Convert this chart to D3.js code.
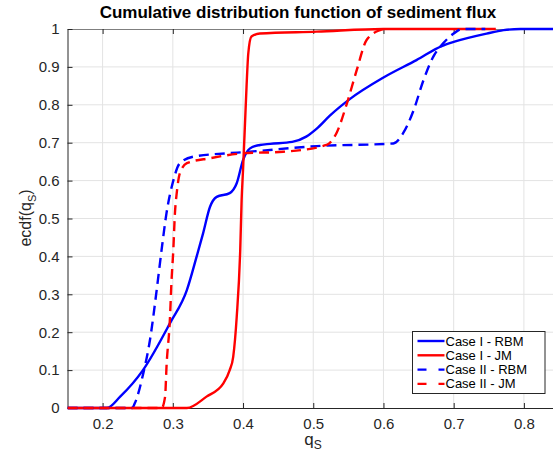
<!DOCTYPE html>
<html>
<head>
<meta charset="utf-8">
<script src="https://cdn.jsdelivr.net/npm/d3@7/dist/d3.min.js"></script>
<style>
  body { margin: 0; background: #fff; }
  text { font-family: "Liberation Sans", Arial, sans-serif; }
</style>
</head>
<body>
<script>
// sediment flux samples (q_S) and their ecdf values, one pair of arrays per case
var rbm1Q = [0.15, 0.206, 0.225, 0.2575, 0.296, 0.32, 0.334, 0.343, 0.353, 0.3625, 0.381, 0.391, 0.400, 0.41, 0.424, 0.4385, 0.47, 0.49, 0.505, 0.524, 0.552, 0.600, 0.647, 0.683, 0.70, 0.747, 0.771, 0.795, 0.85]
var rbm1V = [0, 0, 0.03, 0.10, 0.224, 0.311, 0.40, 0.46, 0.531, 0.557, 0.567, 0.593, 0.654, 0.685, 0.694, 0.697, 0.702, 0.716, 0.737, 0.772, 0.815, 0.872, 0.918, 0.955, 0.966, 0.988, 0.997, 1, 1]

var jm1Q = [0.15, 0.32, 0.348, 0.372, 0.381, 0.386, 0.391, 0.396, 0.398, 0.400, 0.403, 0.405, 0.4075, 0.412, 0.424, 0.505, 0.60, 0.76]
var jm1V = [0, 0, 0.03, 0.065, 0.10, 0.135, 0.24, 0.417, 0.549, 0.628, 0.76, 0.848, 0.936, 0.98, 0.988, 0.993, 1, 1]

var rbm2Q = [0.15, 0.242, 0.246, 0.258, 0.2675, 0.277, 0.284, 0.291, 0.3007, 0.310, 0.329, 0.377, 0.40, 0.505, 0.614, 0.628, 0.643, 0.657, 0.671, 0.685, 0.70, 0.712, 0.745]
var rbm2V = [0, 0, 0.013, 0.092, 0.18, 0.311, 0.417, 0.514, 0.60, 0.646, 0.663, 0.672, 0.675, 0.691, 0.698, 0.725, 0.786, 0.865, 0.927, 0.962, 0.988, 1, 1]

var jm2Q = [0.15, 0.284, 0.289, 0.291, 0.296, 0.298, 0.3007, 0.303, 0.3055, 0.31, 0.32, 0.353, 0.40, 0.457, 0.519, 0.533, 0.548, 0.562, 0.576, 0.595, 0.60]
var jm2V = [0, 0, 0.03, 0.109, 0.24, 0.33, 0.417, 0.514, 0.566, 0.619, 0.646, 0.659, 0.672, 0.676, 0.694, 0.725, 0.804, 0.892, 0.971, 0.997, 1]

var xTicks = [0.2, 0.3, 0.4, 0.5, 0.6, 0.7, 0.8]
var yTicks = [0, 0.1, 0.2, 0.3, 0.4, 0.5, 0.6, 0.7, 0.8, 0.9, 1]

var series = [
	{name: 'Case I - RBM', q: rbm1Q, v: rbm1V, color: '#0000ff', dash: null},
	{name: 'Case I - JM', q: jm1Q, v: jm1V, color: '#ff0000', dash: null},
	{name: 'Case II - RBM', q: rbm2Q, v: rbm2V, color: '#0000ff', dash: '10,6'},
	{name: 'Case II - JM', q: jm2Q, v: jm2V, color: '#ff0000', dash: '10,6'}
]

var width = 553,
	height = 454,
	margin = {top: 29, left: 67.5, bottom: 408}

var svg = d3.select('body')
	.append('svg')
	.attr('width', width)
	.attr('height', height)

svg.append('rect').attr('width', width).attr('height', height).attr('fill', '#fff')

var x = d3.scaleLinear()
	.domain([0.15, 0.85])
	.range([margin.left, 559])

var y = d3.scaleLinear()
	.domain([0, 1])
	.range([margin.bottom, margin.top])

// grid
svg.append('g')
	.selectAll('line')
	.data(xTicks).enter()
	.append('line')
	.attr('x1', d => x(d)).attr('x2', d => x(d))
	.attr('y1', y(0)).attr('y2', y(1))
	.attr('stroke', '#e3e3e3')

svg.append('g')
	.selectAll('line')
	.data(yTicks.slice(1, -1)).enter()
	.append('line')
	.attr('x1', x.range()[0]).attr('x2', width)
	.attr('y1', d => y(d)).attr('y2', d => y(d))
	.attr('stroke', '#e3e3e3')

var fontFam = '"Liberation Sans", Arial, sans-serif'

// top border with inward ticks
var axTop = svg.append('g').attr('transform', 'translate(0,' + y(1) + ')')
	.call(d3.axisTop(x).tickValues(xTicks).tickSizeInner(-5).tickSizeOuter(0).tickFormat(''))
axTop.select('.domain').attr('stroke', '#7f7f7f')
axTop.selectAll('.tick line').attr('stroke', '#262626')

// bottom axis
var axBottom = svg.append('g').attr('transform', 'translate(0,' + y(0) + ')')
	.call(d3.axisBottom(x).tickValues(xTicks).tickSizeInner(-5).tickSizeOuter(0).tickPadding(10).tickFormat(d3.format('.1f')))
axBottom.select('.domain').attr('stroke', '#262626')
axBottom.selectAll('.tick line').attr('stroke', '#262626')
axBottom.selectAll('text').attr('fill', '#262626').style('font-size', '15px').style('font-family', fontFam)

// left axis
var axLeft = svg.append('g').attr('transform', 'translate(' + x.range()[0] + ',0)')
	.call(d3.axisLeft(y).tickValues(yTicks).tickSizeInner(-5).tickSizeOuter(0).tickPadding(8).tickFormat(d => d == 0 || d == 1 ? d3.format('d')(d) : d3.format('.1f')(d)))
axLeft.select('.domain').attr('stroke', '#262626')
axLeft.selectAll('.tick line').attr('stroke', '#262626')
axLeft.selectAll('text').attr('fill', '#262626').style('font-size', '15px').style('font-family', fontFam)

// curves
svg.append('clipPath').attr('id', 'plotclip')
	.append('rect')
	.attr('x', x.range()[0]).attr('y', y(1) - 3)
	.attr('width', width - x.range()[0]).attr('height', y(0) - y(1) + 6)

var line = d3.line()
	.x(d => x(d[0]))
	.y(d => y(d[1]))
	.curve(d3.curveMonotoneX)

svg.append('g')
	.attr('clip-path', 'url(#plotclip)')
	.selectAll('path')
	.data(series).enter()
	.append('path')
	.attr('d', s => line(s.q.map((q, i) => [q, s.v[i]])))
	.attr('fill', 'none')
	.attr('stroke', s => s.color)
	.attr('stroke-width', 2.4)
	.attr('stroke-dasharray', s => s.dash)

// title and labels
svg.append('text')
	.attr('x', 298).attr('y', 18)
	.attr('text-anchor', 'middle')
	.style('font-size', '17px').style('font-weight', 'bold')
	.attr('fill', '#000')
	.text('Cumulative distribution function of sediment flux')

var xl = svg.append('text')
	.attr('x', 313).attr('y', 445)
	.attr('text-anchor', 'middle')
	.attr('fill', '#262626')
	.style('font-size', '17px')
xl.append('tspan').text('q')
xl.append('tspan').attr('dy', 4).style('font-size', '12px').text('S')

var yl = svg.append('text')
	.attr('transform', 'translate(31,218) rotate(-90)')
	.attr('text-anchor', 'middle')
	.attr('fill', '#262626')
	.style('font-size', '16px')
yl.append('tspan').text('ecdf(q')
yl.append('tspan').attr('dy', 5).style('font-size', '11px').text('S')
yl.append('tspan').attr('dy', -5).text(')')

// legend
var legend = svg.append('g').attr('transform', 'translate(412.5,331.5)')
legend.append('rect')
	.attr('width', 132.5).attr('height', 62)
	.attr('fill', '#fff').attr('stroke', '#262626')

var rows = legend.selectAll('g.row')
	.data(series).enter()
	.append('g')
	.attr('transform', (d, i) => 'translate(0,' + (9.5 + i * 14.3) + ')')

rows.append('line')
	.attr('x1', 5).attr('x2', 32)
	.attr('stroke', d => d.color)
	.attr('stroke-width', 2.4)
	.attr('stroke-dasharray', d => d.dash ? '9,12' : null)

rows.append('text')
	.attr('x', 33).attr('y', 4.5)
	.attr('fill', '#000')
	.style('font-size', '13px')
	.text(d => d.name)
</script>
</body>
</html>
